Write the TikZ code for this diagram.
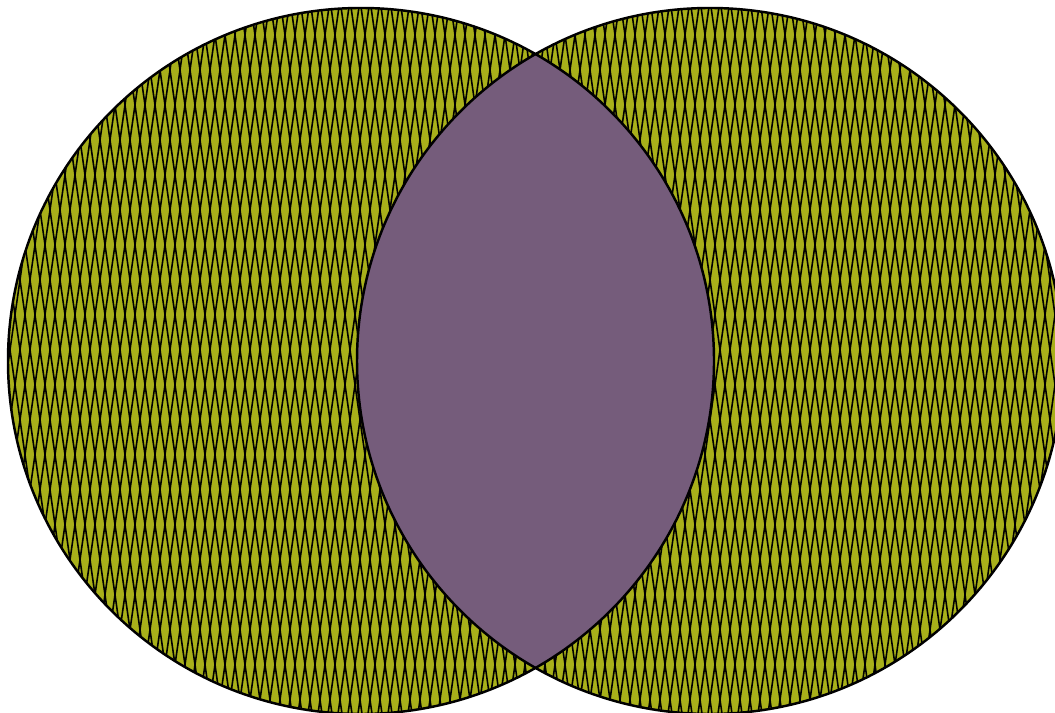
\documentclass[tikz,border=0pt]{standalone}
\definecolor{olivefill}{RGB}{168,176,26}
\definecolor{lenspurple}{RGB}{117,92,123}
\begin{document}
\begin{tikzpicture}[x=0.01cm,y=-0.01cm,
  hatch/.style={black,line width=0.45pt},
  outline/.style={draw=black,line width=0.7pt}]
\useasboundingbox (0,0) rectangle (1055,713);
\coordinate (cl) at (361,361);
\coordinate (cr) at (710,361);
% left circle with pattern
\begin{scope}
  \clip (cl) circle[radius=353];
  \fill[olivefill] (cl) circle[radius=353];
  \foreach \i in {-15,...,120}{
    \draw[hatch] (\i*10,0) -- ++(101.9,713);
    \draw[hatch] (\i*10,0) -- ++(-101.9,713);
  }
\end{scope}
% right circle with pattern
\begin{scope}
  \clip (cr) circle[radius=353];
  \fill[olivefill] (cr) circle[radius=353];
  \foreach \i in {-15,...,120}{
    \draw[hatch] (\i*10,0) -- ++(101.9,713);
    \draw[hatch] (\i*10,0) -- ++(-101.9,713);
  }
\end{scope}
% lens
\begin{scope}
  \clip (cl) circle[radius=353];
  \fill[lenspurple] (cr) circle[radius=353];
\end{scope}
\draw[outline] (cl) circle[radius=353];
\draw[outline] (cr) circle[radius=353];
\end{tikzpicture}
\end{document}
